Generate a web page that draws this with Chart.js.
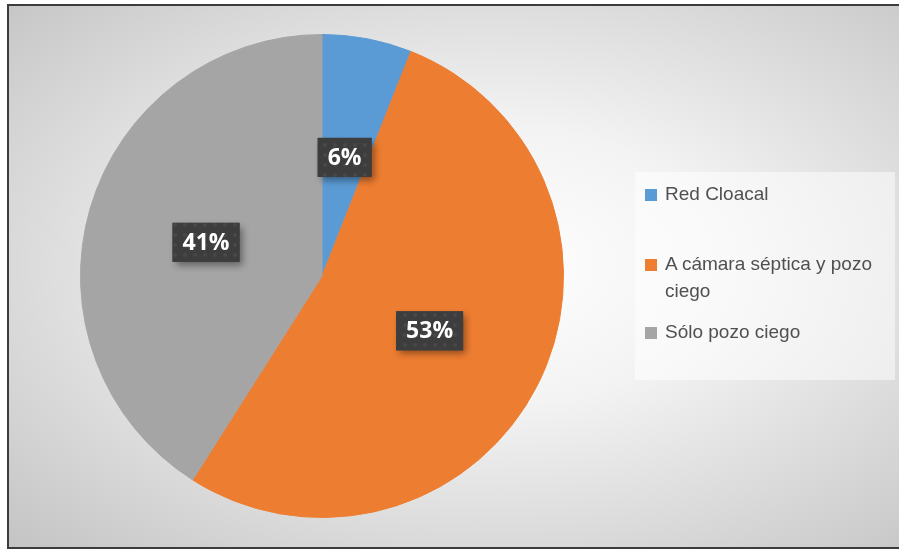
<!DOCTYPE html>
<html>
<head>
<meta charset="utf-8">
<script src="https://cdn.jsdelivr.net/npm/chart.js@4.4.0/dist/chart.umd.min.js"></script>
<style>
  html, body { margin: 0; padding: 0; background: #fff; overflow: hidden; }
  #frame {
    position: absolute; left: 7px; top: 4px; width: 920px; height: 541px;
    border: 2px solid #3c3c3c;
    background: radial-gradient(ellipse farthest-corner at 52% 48%, #ffffff 0%, #f3f3f3 35%, #c4c4c4 100%);
  }
  #chartBox { position: absolute; left: 0; top: 0; width: 899px; height: 549px; }
  #legend {
    position: absolute; left: 635px; top: 172px; width: 260px; height: 208px;
    background: rgba(255, 255, 255, 0.5);
    font-family: "Liberation Sans", Arial, sans-serif; font-size: 19px; color: #505050;
  }
  .item { position: absolute; left: 10px; width: 245px; line-height: 27px; }
  .item .sw { position: absolute; left: 0; top: 9px; width: 12px; height: 12px; }
  .item .tx { margin-left: 20px; display: block; width: 228px; }
</style>
</head>
<body>
<div id="frame"></div>
<div id="chartBox"><canvas id="pie" width="899" height="549"></canvas></div>
<div id="legend"></div>
<script>
document.addEventListener('DOMContentLoaded', function() {
  const labels = ['Red Cloacal', 'A cámara séptica y pozo ciego', 'Sólo pozo ciego'];
  const values = [6, 53, 41];
  const colors = ['#5B9BD5', '#ED7D31', '#A5A5A5'];
  const legendTops = [8, 78, 146];

  // legend built from the same arrays
  const legend = document.getElementById('legend');
  legend.innerHTML = labels.map((label, i) =>
    `<div class="item" style="top:${legendTops[i]}px"><span class="sw" style="background:${colors[i]}"></span><span class="tx">${label}</span></div>`
  ).join('');

  function dotPattern(ctx) {
    const c = document.createElement('canvas');
    c.width = 10; c.height = 10;
    const p = c.getContext('2d');
    p.fillStyle = '#3d3d3d';
    p.fillRect(0, 0, 10, 10);
    p.fillStyle = '#484848';
    p.beginPath();
    p.arc(5, 5, 2, 0, Math.PI * 2);
    p.fill();
    return ctx.createPattern(c, 'repeat');
  }

  const boxLabels = {
    id: 'boxLabels',
    afterDatasetsDraw(chart) {
      const ctx = chart.ctx;
      const meta = chart.getDatasetMeta(0);
      const pattern = dotPattern(ctx);
      ctx.save();
      ctx.font = 'bold 23px "Open Sans", "Liberation Sans", sans-serif';
      ctx.textAlign = 'center';
      ctx.textBaseline = 'middle';
      meta.data.forEach((arc, i) => {
        const pos = arc.tooltipPosition();
        const text = values[i] + '%';
        const w = ctx.measureText(text).width + 20;
        const h = 39;
        const x = pos.x - w / 2, y = pos.y - h / 2;
        ctx.save();
        ctx.shadowColor = 'rgba(0,0,0,0.4)';
        ctx.shadowBlur = 7;
        ctx.shadowOffsetX = 3;
        ctx.shadowOffsetY = 4;
        ctx.fillStyle = '#3d3d3d';
        ctx.fillRect(x, y, w, h);
        ctx.restore();
        ctx.fillStyle = pattern;
        ctx.fillRect(x, y, w, h);
        ctx.fillStyle = '#ffffff';
        ctx.fillText(text, pos.x, pos.y + 1);
      });
      ctx.restore();
    }
  };

  new Chart(document.getElementById('pie').getContext('2d'), {
    type: 'pie',
    data: {
      labels: labels,
      datasets: [{
        data: values,
        backgroundColor: colors,
        borderColor: colors,
        borderWidth: 1
      }]
    },
    options: {
      responsive: false,
      animation: false,
      layout: { padding: { left: 80, right: 335, top: 34, bottom: 31 } },
      plugins: {
        legend: { display: false },
        tooltip: { enabled: false }
      }
    },
    plugins: [boxLabels]
  });
});
</script>
</body>
</html>
